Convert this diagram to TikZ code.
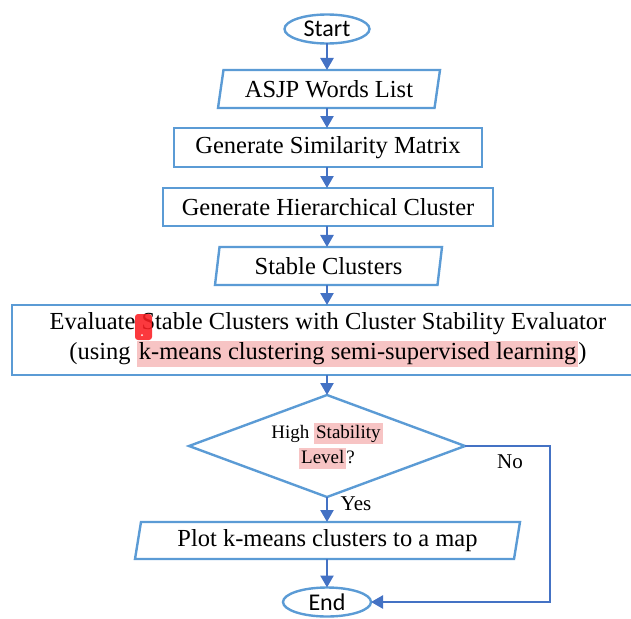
\documentclass[tikz,border=0pt]{standalone}
\usepackage{fontspec}
\setmainfont{Liberation Serif}
\newfontfamily\calibrifont{Carlito}
\usetikzlibrary{shapes.geometric,arrows.meta}
\definecolor{boxblue}{RGB}{91,155,213}
\definecolor{arrblue}{RGB}{68,114,196}
\definecolor{hlpink}{RGB}{247,196,196}
\definecolor{markred}{RGB}{250,30,35}
\newcommand{\hlt}[1]{{\setlength{\fboxsep}{2pt}\colorbox{hlpink}{\vphantom{lg}#1}}}
\begin{document}
\begin{tikzpicture}[x=1pt,y=-1pt,
  every node/.style={inner sep=0pt,outer sep=0pt},
  base/.style={draw=boxblue,line width=2.4pt,font=\fontsize{24.5}{28}\selectfont,align=center},
  terminal/.style={base,ellipse,font=\calibrifont\fontsize{24}{28}\selectfont},
  procbox/.style={base,rectangle},
  iobox/.style={base,trapezium,trapezium stretches body=true},
  decbox/.style={base,diamond,font=\fontsize{19}{25}\selectfont},
  arr/.style={draw=arrblue,line width=2.4pt,-{Triangle[length=12pt,width=13pt]}},
  lbl/.style={font=\fontsize{21}{24}\selectfont}]
\useasboundingbox (0,0) rectangle (631,618);

\node[terminal,minimum width=85pt,minimum height=29pt] (start) at (327,29) {Start};
\node[iobox,trapezium left angle=72.5,trapezium right angle=107.5,minimum width=222pt,minimum height=38pt] (asjp) at (329,89) {ASJP Words List};
\node[procbox,minimum width=308pt,minimum height=39pt] (sim) at (328,147.5) {Generate Similarity Matrix};
\node[procbox,minimum width=330pt,minimum height=38pt] (hier) at (328,207) {Generate Hierarchical Cluster};
\node[iobox,trapezium left angle=75.3,trapezium right angle=104.7,minimum width=227pt,minimum height=38pt] (stable) at (328.5,266) {Stable Clusters};
\node[procbox,minimum width=632pt,minimum height=70pt,font=\fontsize{24.5}{30}\selectfont] (eval) at (328,340)
  {Evaluate Stable Clusters with Cluster Stability Evaluator\\(using \hlt{k-means clustering semi-supervised learning})};
\node[decbox,minimum width=276pt,minimum height=102pt,shape aspect=2.7] (dec) at (327,446)
  {High \hlt{Stability}\\\hlt{Level}?};
\node[iobox,trapezium left angle=74.9,trapezium right angle=105.1,minimum width=385pt,minimum height=37pt] (plot) at (327.5,540.5) {Plot k-means clusters to a map};
\node[terminal,minimum width=88pt,minimum height=29pt] (end) at (327,602) {End};

\fill[markred,opacity=0.88,rounded corners=3pt] (135,314) rectangle (152,340);
\fill[white] (142,335) circle (1pt);

\draw[arr] (start) -- (asjp.north -| start);
\draw[arr] (asjp.south -| start) -- (sim.north -| start);
\draw[arr] (sim.south -| start) -- (hier.north -| start);
\draw[arr] (hier.south -| start) -- (stable.north -| start);
\draw[arr] (stable.south -| start) -- (eval.north -| start);
\draw[arr] (eval.south -| start) -- (dec.north);
\draw[arr] (dec.south) -- (plot.north -| dec.south);
\draw[arr] (plot.south -| end) -- (end);
\coordinate (nocorner) at (550,446);
\draw[arr] (dec.east) -- (nocorner) |- (end.east);

\node[lbl] (yes) at (356,504) {Yes};
\node[lbl] (no) at (510,462) {No};
\end{tikzpicture}
\end{document}
